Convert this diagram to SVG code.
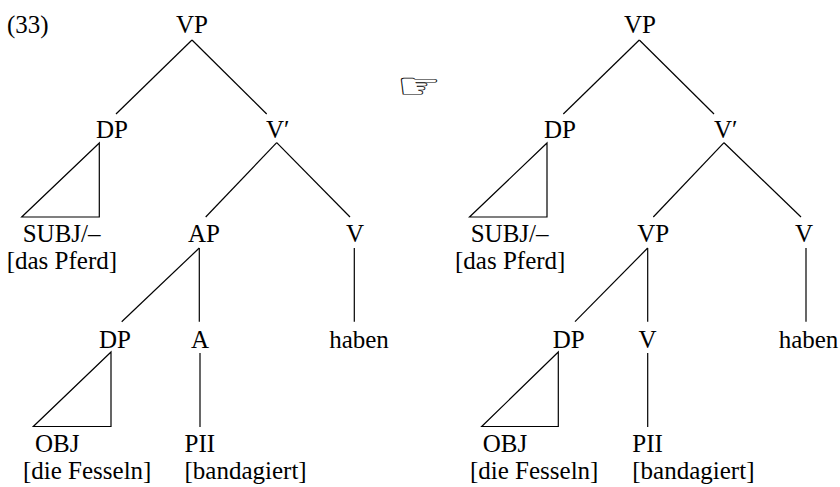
<svg xmlns="http://www.w3.org/2000/svg" width="840" height="487" viewBox="0 0 840 487">
<style>
text { font-family: "Liberation Serif", "Times New Roman", serif; font-size: 25px; fill: #000; }
.c { text-anchor: middle; }
.e line, .e polygon { stroke: #000; stroke-width: 1.2; fill: none; }
.hand { font-family: "DejaVu Sans", sans-serif; font-size: 36px; }
</style>
<rect width="840" height="487" fill="#fff"/>
<g id="label33"><text x="7" y="33">(33)</text></g>
<g id="hand" transform="translate(396.5,97.7) scale(1.4,1)"><text class="hand" x="0" y="0">☞</text></g>

<g id="connectors" class="e">
  <!-- left tree -->
  <line x1="192" y1="40" x2="116" y2="114"/>
  <line x1="192" y1="40" x2="266.7" y2="114"/>
  <polygon points="99.3,143 21.7,217 99.3,217"/>
  <line x1="276.7" y1="142.7" x2="205.7" y2="217"/>
  <line x1="276.7" y1="142.7" x2="350" y2="217"/>
  <line x1="199.3" y1="248" x2="121.7" y2="321.7"/>
  <line x1="199.3" y1="248" x2="199.3" y2="321.7"/>
  <line x1="354.3" y1="248" x2="354.3" y2="321.7"/>
  <polygon points="111,352 33.3,426.5 111,426.5"/>
  <line x1="200" y1="353" x2="200" y2="427"/>
  <!-- right tree -->
  <line x1="639.3" y1="40" x2="563.3" y2="114"/>
  <line x1="639.3" y1="40" x2="714" y2="114"/>
  <polygon points="547,143 469.5,217 547,217"/>
  <line x1="724" y1="142.7" x2="653.3" y2="217"/>
  <line x1="724" y1="142.7" x2="801" y2="217"/>
  <line x1="647.7" y1="248" x2="575" y2="321.7"/>
  <line x1="647.7" y1="248" x2="647.7" y2="321.7"/>
  <line x1="806" y1="248" x2="806" y2="321.7"/>
  <polygon points="558.3,352 481.7,426.5 558.3,426.5"/>
  <line x1="647.7" y1="353" x2="647.7" y2="427"/>
</g>

<!-- left tree nodes -->
<g id="L-VP"><text class="c" x="192" y="33">VP</text></g>
<g id="L-DP"><text class="c" x="112" y="138">DP</text></g>
<g id="L-Vbar"><text x="266" y="138">V′</text></g>
<g id="L-SUBJ"><text x="22.7" y="242">SUBJ/–</text><text x="6.7" y="269">[das Pferd]</text></g>
<g id="L-AP"><text class="c" x="204" y="242">AP</text></g>
<g id="L-V"><text class="c" x="355" y="242">V</text></g>
<g id="L-DP2"><text class="c" x="115" y="348">DP</text></g>
<g id="L-A"><text class="c" x="200" y="348">A</text></g>
<g id="L-haben"><text class="c" x="359" y="348">haben</text></g>
<g id="L-OBJ"><text x="35" y="452">OBJ</text><text x="23" y="479">[die Fesseln]</text></g>
<g id="L-PII"><text x="184.5" y="452">PII</text><text x="184.5" y="479">[bandagiert]</text></g>

<!-- right tree nodes -->
<g id="R-VP"><text class="c" x="640" y="33">VP</text></g>
<g id="R-DP"><text class="c" x="560" y="138">DP</text></g>
<g id="R-Vbar"><text x="714" y="138">V′</text></g>
<g id="R-SUBJ"><text x="470.7" y="242">SUBJ/–</text><text x="455" y="269">[das Pferd]</text></g>
<g id="R-VP2"><text class="c" x="653.3" y="242">VP</text></g>
<g id="R-V"><text class="c" x="804" y="242">V</text></g>
<g id="R-DP2"><text class="c" x="568.7" y="348">DP</text></g>
<g id="R-V2"><text class="c" x="647.5" y="348">V</text></g>
<g id="R-haben"><text class="c" x="808.5" y="348">haben</text></g>
<g id="R-OBJ"><text x="482.7" y="452">OBJ</text><text x="470" y="479">[die Fesseln]</text></g>
<g id="R-PII"><text x="632.3" y="452">PII</text><text x="632.3" y="479">[bandagiert]</text></g>
</svg>
